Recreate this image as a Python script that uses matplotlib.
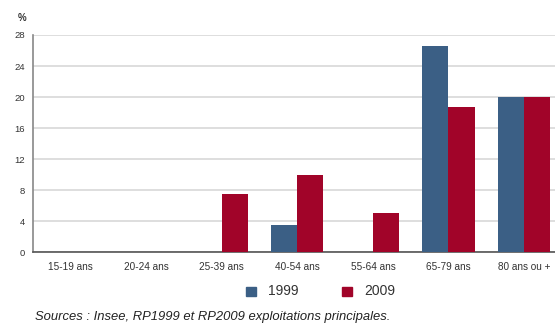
import numpy as np
import matplotlib.pyplot as plt
from matplotlib.patches import Rectangle

plt.rcParams['font.family'] = ['Liberation Sans', 'DejaVu Sans']

ages = ["15-19 ans", "20-24 ans", "25-39 ans", "40-54 ans", "55-64 ans", "65-79 ans", "80 ans ou +"]
v1999 = [0, 0, 0, 3.5, 0, 26.6, 20]
v2009 = [0, 0, 7.5, 10, 5, 18.7, 20]
yticks = [0, 4, 8, 12, 16, 20, 24, 28]

c1999 = "#3b5f85"
c2009 = "#a10429"
grey = "#555555"

fig = plt.figure(figsize=(5.55, 3.24), dpi=100)
ax = fig.add_axes([0.0595, 0.222, 0.9405, 0.67])

x = np.arange(len(ages))
w = 0.345
ax.bar(x - w / 2, v1999, w, color=c1999, zorder=3)
ax.bar(x + w / 2, v2009, w, color=c2009, zorder=3)

ax.set_xlim(-0.5, 6.41)
ax.set_ylim(0, 28)
ax.set_yticks(yticks)
ax.set_xticks(x)
ax.set_xticklabels(ages)
ax.tick_params(length=0, labelsize=7.2, colors="#333333", pad=7)
ax.tick_params(axis="y", labelsize=6.8, pad=6)
ax.grid(axis="y", color="#d8d8d8", linewidth=1.2, zorder=0)
for s in ["top", "right"]:
    ax.spines[s].set_visible(False)
ax.spines["left"].set_color("#888888")
ax.spines["left"].set_linewidth(1.2)
ax.spines["bottom"].set_color(grey)
ax.spines["bottom"].set_linewidth(1.2)

fig.text(0.04, 0.945, "%", fontsize=7, fontweight="bold", color="#333333", ha="center", va="center")

# legend drawn under the axis
leg = [(246, c1999, "1999"), (342, c2009, "2009")]
for px, col, lab in leg:
    fig.patches.append(Rectangle((px / 555, 1 - 296 / 324), 10 / 555, 9 / 324,
                                 transform=fig.transFigure, color=col))
    fig.text((px + 22) / 555, 1 - 291 / 324, lab, fontsize=10, color="#333333", va="center")

fig.text(35 / 555, 1 - 317 / 324, "Sources : Insee, RP1999 et RP2009 exploitations principales.",
         fontsize=9.4, style="italic", color="#222222", va="center")

fig.savefig("out.png", dpi=100)
